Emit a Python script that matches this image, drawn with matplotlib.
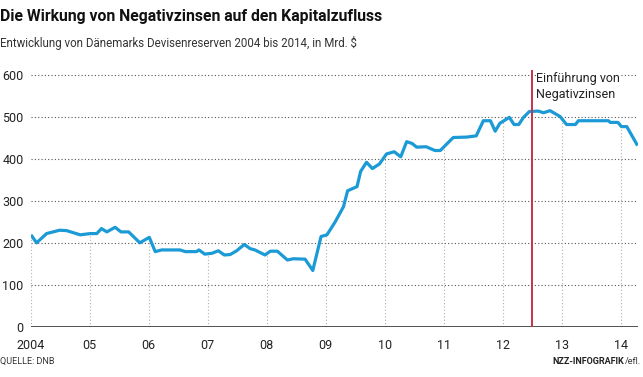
#!/usr/bin/env python3
"""Daenemarks Devisenreserven 2004-2014 (NZZ style line chart)."""

import numpy as np
import matplotlib
matplotlib.use('Agg')
import matplotlib.pyplot as plt

# ---------------------------------------------------------------------------
# Data (decimal years / Mrd. $)
# ---------------------------------------------------------------------------
YEARS = [2004.02, 2004.10, 2004.27, 2004.49, 2004.61, 2004.84, 2005.01, 2005.12,
         2005.20, 2005.29, 2005.43, 2005.53, 2005.66, 2005.74, 2005.85, 2006.01,
         2006.11, 2006.22, 2006.53, 2006.62, 2006.81, 2006.85, 2006.95, 2007.07,
         2007.18, 2007.28, 2007.38, 2007.49, 2007.62, 2007.72, 2007.80, 2007.97,
         2008.06, 2008.18, 2008.35, 2008.45, 2008.65, 2008.78, 2008.92, 2009.02,
         2009.16, 2009.30, 2009.37, 2009.53, 2009.59, 2009.69, 2009.79, 2009.91,
         2010.03, 2010.16, 2010.27, 2010.37, 2010.46, 2010.54, 2010.70, 2010.85,
         2010.94, 2011.16, 2011.39, 2011.55, 2011.67, 2011.79, 2011.87, 2011.95,
         2012.11, 2012.19, 2012.27, 2012.35, 2012.45, 2012.60, 2012.69, 2012.80,
         2012.97, 2013.08, 2013.23, 2013.28, 2013.59, 2013.79, 2013.82, 2013.95,
         2014.01, 2014.10, 2014.27]
RESERVES = [216, 200, 222, 230, 229, 219, 222, 222,
            234, 226, 237, 226, 226, 215, 200, 213,
            179, 183, 183, 179, 179, 183, 173, 175,
            181, 171, 172, 181, 196, 186, 183, 171,
            180, 180, 159, 162, 161, 134, 215, 219,
            250, 286, 324, 334, 370, 392, 377, 388,
            412, 417, 405, 441, 437, 428, 429, 420,
            420, 451, 452, 455, 491, 491, 466, 485,
            499, 482, 482, 499, 513, 514, 510, 515,
            501, 482, 482, 491, 491, 491, 487, 487,
            477, 477, 435]

TICK_YEARS = list(range(2004, 2015))
TICK_LABELS = ['2004', '05', '06', '07', '08', '09', '10', '11', '12', '13', '14']
Y_TICKS = [0, 100, 200, 300, 400, 500, 600]
EVENT_YEAR = 2012.5
EVENT_LABEL = 'Einführung von\nNegativzinsen'

# ---------------------------------------------------------------------------
# Style
# ---------------------------------------------------------------------------
BLUE = '#1b9ad6'
RED = '#c9304a'
TEXT = '#222222'
GRID_H = '#555555'
GRID_V = '#b0b0b0'
FONT = ['Liberation Sans Narrow', 'Roboto', 'DejaVu Sans']

plt.rcParams['font.family'] = FONT


def main():
    fig = plt.figure(figsize=(6.43, 3.77), dpi=100)
    ax = fig.add_axes([0.0477, 0.1334, 0.9445, 0.681])
    ax.set_xlim(2004, 2014.29)
    ax.set_ylim(0, 612)

    for s in ax.spines.values():
        s.set_visible(False)

    # horizontal dotted grid
    for v in Y_TICKS[1:]:
        ax.axhline(v, color=GRID_H, lw=0.8, ls=(0, (1, 2)), zorder=1)
    # vertical dotted grid up to the line
    for yr in TICK_YEARS:
        top = np.interp(yr, YEARS, RESERVES)
        ax.plot([yr, yr], [0, top], color=GRID_V, lw=0.8, ls=(0, (1, 2)),
                zorder=1)
    ax.axhline(0, color='#333333', lw=1.2, zorder=3)

    ax.plot(YEARS, RESERVES, color=BLUE, lw=2.3, solid_joinstyle='round',
            zorder=4)

    ax.axvline(EVENT_YEAR, ymin=0, ymax=1, color=RED, lw=1.4, zorder=5)
    ax.text(EVENT_YEAR + 0.07, 606, EVENT_LABEL, ha='left', va='top',
            fontsize=9, color=TEXT, linespacing=1.25, zorder=6,
            bbox=dict(facecolor='white', edgecolor='none', pad=0.5))

    ax.set_xticks(TICK_YEARS)
    ax.set_xticklabels(TICK_LABELS)
    ax.set_yticks(Y_TICKS)
    ax.tick_params(axis='both', length=0, labelsize=9, colors=TEXT)
    ax.tick_params(axis='x', pad=9)
    ax.tick_params(axis='y', pad=5)

    fig.text(0.0, 0.955, 'Die Wirkung von Negativzinsen auf den Kapitalzufluss',
             fontsize=11.3, fontweight='bold', color='#111111', ha='left',
             va='center')
    fig.text(0.0, 0.885,
             'Entwicklung von Dänemarks Devisenreserven 2004 bis 2014, in Mrd. $',
             fontsize=8.3, color='#333333', ha='left', va='center')
    fig.text(0.0, 0.04, 'QUELLE: DNB', fontsize=6.5, color='#333333',
             ha='left', va='center')
    t = fig.text(0.997, 0.04, '/efl.', fontsize=6.5, color='#333333',
                 ha='right', va='center')
    fig.canvas.draw()
    bb = t.get_window_extent().transformed(fig.transFigure.inverted())
    fig.text(bb.x0 - 0.002, 0.04, 'NZZ-INFOGRAFIK', fontsize=6.5,
             fontweight='bold', color='#222222', ha='right', va='center')

    fig.savefig('out.png', dpi=100, facecolor='white')
    plt.close(fig)


if __name__ == '__main__':
    main()
